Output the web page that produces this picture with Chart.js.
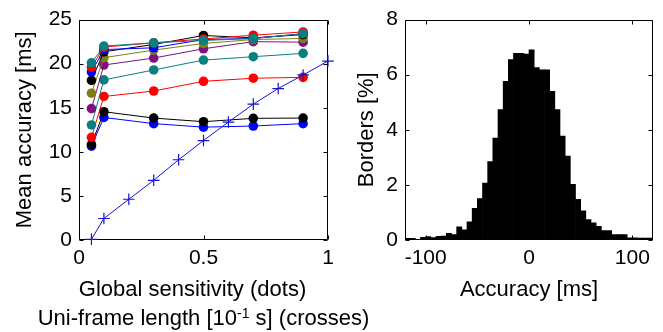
<!DOCTYPE html>
<html><head><meta charset="utf-8">
<script src="https://cdn.jsdelivr.net/npm/chart.js@4.4.1/dist/chart.umd.min.js"></script>
<style>
html,body{margin:0;padding:0;background:#fff;}
#wrap{position:relative;width:663px;height:332px;overflow:hidden;background:#fff;}
#c1{position:absolute;left:0;top:0;}
#c2{position:absolute;left:350px;top:0;}
</style></head><body>
<div id="wrap"><canvas id="c1" width="420" height="332"></canvas><canvas id="c2" width="313" height="332"></canvas></div>
<script>
// ---------- data: left panel ----------
const sensitivity = [0.05, 0.1, 0.3, 0.5, 0.7, 0.9];
const acc1  = [10.64, 13.9, 13.2, 12.8, 12.93, 13.2];
const acc2  = [10.83, 14.55, 13.83, 13.42, 13.8, 13.83];
const acc3  = [11.65, 16.28, 16.9, 18.0, 18.35, 18.45];
const acc4  = [13.05, 18.16, 19.29, 20.41, 20.79, 21.17];
const acc5  = [14.9, 19.85, 20.64, 21.69, 22.5, 22.44];
const acc6  = [16.65, 20.68, 21.54, 22.29, 22.74, 22.86];
const acc7  = [18.1, 21.35, 22.18, 23.2, 22.93, 23.3];
const acc8  = [19.06, 21.6, 21.8, 22.74, 22.86, 23.4];
const acc9  = [19.6, 21.88, 22.37, 22.8, 23.23, 23.6];
const acc10 = [20.1, 22.0, 22.37, 22.63, 22.86, 23.4];
const frameLength = [0.05, 0.1, 0.2, 0.3, 0.4, 0.5, 0.6, 0.7, 0.8, 0.9, 1.0];
const frameAccuracy = [0.08, 2.44, 4.62, 6.77, 9.1, 11.28, 13.38, 15.41, 17.18, 18.72, 20.3];
const leftXTicks = [0, 0.5, 1];
const leftYTicks = [0, 5, 10, 15, 20, 25];

// ---------- data: right panel ----------
const accuracyBins = [-117.5,-112.5,-107.5,-102.5,-97.5,-92.5,-87.5,-82.5,-77.5,-72.5,-67.5,-62.5,
  -57.5,-52.5,-47.5,-42.5,-37.5,-32.5,-27.5,-22.5,-17.5,-12.5,-7.5,-2.5,
  2.5,7.5,12.5,17.5,22.5,27.5,32.5,37.5,42.5,47.5,52.5,57.5,
  62.5,67.5,72.5,77.5,82.5,87.5,92.5,97.5,102.5,107.5,112.5,117.5];
const borders = [0.06,0.06,0.02,0.1,0.12,0.09,0.13,0.14,0.24,0.2,0.48,0.37,
  0.66,1.15,1.5,2.07,2.85,3.7,4.73,5.76,6.55,6.78,6.78,6.75,
  6.9,6.26,6.18,6.18,5.4,4.73,3.77,3.05,2.02,1.48,1.06,0.74,
  0.62,0.5,0.34,0.34,0.2,0.2,0.2,0.08,0.08,0.07,0.07,0.07];
const rightXTicks = [-100, 0, 100];
const rightYTicks = [0, 2, 4, 6, 8];

// ---------- styles ----------
const FAM = "'Liberation Sans', Arial, sans-serif";
const tickFont = {family: FAM, size: 21};
const titleFont = {family: FAM, size: 22};
const dotColors = ['#0000ff','#000000','#ff0000','#0a7f7f','#7f107f','#7f7f10','#000000','#0000ff','#ff0000','#0a7f7f'];
const crossBlue = '#1414d2';

function setTicks(arr){ return s => { s.ticks = arr.map(v => ({value: v})); }; }

const framePlugin = {
  id: 'frame',
  beforeDatasetsDraw(chart) {
    const {ctx, chartArea: a, scales: {x, y}} = chart;
    const L = Math.round(a.left) + 0.5, R = Math.round(a.right) - 0.5;
    const T = Math.round(a.top) + 0.5, B = Math.round(a.bottom) - 0.5;
    ctx.save();
    ctx.strokeStyle = '#000'; ctx.lineWidth = 1;
    ctx.beginPath();
    ctx.rect(L, T, R - L, B - T);
    const tl = 4;
    y.ticks.forEach(t => {
      const py = Math.round(y.getPixelForValue(t.value)) + 0.5;
      ctx.moveTo(L, py); ctx.lineTo(L + tl, py);
      ctx.moveTo(R, py); ctx.lineTo(R - tl, py);
    });
    x.ticks.forEach(t => {
      const px = Math.round(x.getPixelForValue(t.value)) + 0.5;
      ctx.moveTo(px, B); ctx.lineTo(px, B - tl);
      ctx.moveTo(px, T); ctx.lineTo(px, T + tl);
    });
    ctx.stroke();
    ctx.restore();
  }
};

function xTitlePlugin(lines) {
  return {
    id: 'xtitles',
    afterDraw(chart) {
      const {ctx, chartArea: a} = chart;
      const cx = (a.left + a.right) / 2;
      ctx.save();
      ctx.fillStyle = '#000';
      ctx.textBaseline = 'alphabetic';
      lines.forEach(line => {
        let w = 0;
        line.parts.forEach(p => {
          ctx.font = (p.sup ? 14 : 22) + 'px ' + FAM;
          p.w = ctx.measureText(p.text).width; w += p.w;
        });
        let x0 = cx + line.dx - w / 2;
        const base = a.bottom + line.dy;
        line.parts.forEach(p => {
          ctx.font = (p.sup ? 14 : 22) + 'px ' + FAM;
          ctx.textAlign = 'left';
          ctx.fillText(p.text, x0, p.sup ? base - 7 : base);
          x0 += p.w;
        });
      });
      ctx.restore();
    }
  };
}

const common = {
  responsive: false, animation: false, events: [],
  plugins: {legend: {display: false}, tooltip: {enabled: false}}
};

// ---------- left chart ----------
const dotSets = [acc1, acc2, acc3, acc4, acc5, acc6, acc7, acc8, acc9, acc10].map((vals, i) => ({
  data: sensitivity.map((x, j) => ({x, y: vals[j]})),
  borderColor: dotColors[i], backgroundColor: dotColors[i],
  pointBackgroundColor: dotColors[i], pointBorderColor: dotColors[i],
  borderWidth: 1, pointRadius: 4.8, pointBorderWidth: 0, pointStyle: 'circle',
  fill: false, tension: 0, clip: false, order: 11 - i
}));

new Chart(document.getElementById('c1'), {
  type: 'line',
  data: {datasets: [
    {data: frameLength.map((x, j) => ({x, y: frameAccuracy[j]})),
     borderColor: crossBlue, backgroundColor: crossBlue, borderWidth: 1,
     pointStyle: 'cross', pointRadius: 5.8, pointBorderWidth: 1.2, pointBorderColor: crossBlue,
     fill: false, tension: 0, clip: false, order: 0},
    ...dotSets
  ]},
  options: {
    ...common,
    layout: {padding: {top: 18, right: 92, left: 0, bottom: 0}},
    scales: {
      x: {type: 'linear', min: 0, max: 1, afterBuildTicks: setTicks(leftXTicks),
          afterFit: s => { s.height = 92; },
          grid: {display: false, drawTicks: false}, border: {display: false},
          ticks: {color: '#000', font: tickFont, padding: 6, maxRotation: 0, autoSkip: false, callback: v => String(v)}},
      y: {type: 'linear', min: 0, max: 25, afterBuildTicks: setTicks(leftYTicks),
          afterFit: s => { s.width = 79; },
          grid: {display: false, drawTicks: false}, border: {display: false},
          ticks: {color: '#000', font: tickFont, padding: 7, autoSkip: false, callback: v => String(v)},
          title: {display: true, text: 'Mean accuracy [ms]', color: '#000', font: titleFont, padding: {top: 12, bottom: 0}}}
    }
  },
  plugins: [framePlugin, xTitlePlugin([
    {dx: -11, dy: 56, parts: [{text: 'Global sensitivity (dots)'}]},
    {dx: 0, dy: 85, parts: [{text: 'Uni-frame length [10'}, {text: '-1', sup: true}, {text: ' s] (crosses)'}]}
  ])]
});

// ---------- right chart ----------
new Chart(document.getElementById('c2'), {
  type: 'bar',
  data: {datasets: [{
    data: accuracyBins.map((x, j) => ({x, y: borders[j]})),
    backgroundColor: '#000', borderWidth: 0, barPercentage: 1, categoryPercentage: 1, grouped: false
  }]},
  options: {
    ...common,
    layout: {padding: {top: 19, right: 10, left: 0, bottom: 0}},
    scales: {
      x: {type: 'linear', min: -120, max: 120, offset: false, afterBuildTicks: setTicks(rightXTicks),
          afterFit: s => { s.height = 92; },
          grid: {display: false, drawTicks: false, offset: false}, border: {display: false},
          ticks: {color: '#000', font: tickFont, padding: 6, maxRotation: 0, autoSkip: false, callback: v => String(v)}},
      y: {type: 'linear', min: 0, max: 8, afterBuildTicks: setTicks(rightYTicks),
          afterFit: s => { s.width = 55; },
          grid: {display: false, drawTicks: false}, border: {display: false},
          ticks: {color: '#000', font: tickFont, padding: 7, autoSkip: false, callback: v => String(v)},
          title: {display: true, text: 'Borders [%]', color: '#000', font: titleFont, padding: {top: 4, bottom: 0}}}
    }
  },
  plugins: [framePlugin, xTitlePlugin([
    {dx: 0, dy: 56, parts: [{text: 'Accuracy [ms]'}]}
  ])]
});
</script>
</body></html>
